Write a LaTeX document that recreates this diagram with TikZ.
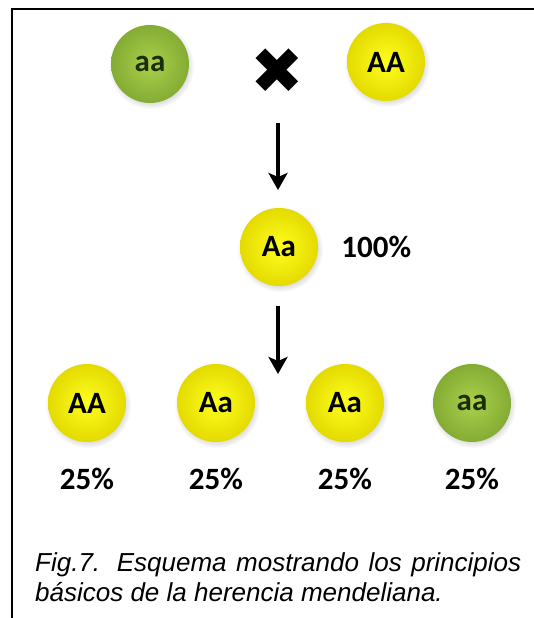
\documentclass[tikz,border=0pt]{standalone}
\usepackage{fontspec}
\setmainfont{Liberation Sans}
\newfontfamily\ballfont{Carlito}
\newfontfamily\symfont{DejaVu Sans}
\usetikzlibrary{arrows.meta,positioning,shadows}
\definecolor{ylwin}{RGB}{255,255,30}
\definecolor{ylwout}{RGB}{228,218,0}
\definecolor{grnin}{RGB}{170,208,75}
\definecolor{grnout}{RGB}{132,172,52}
\definecolor{grntext}{RGB}{28,45,10}

\begin{document}
\begin{tikzpicture}[x=1pt, y=-1pt, node distance=24pt, font=\ballfont\bfseries\fontsize{31}{34}\selectfont]
\tikzset{
  ball/.style={circle, minimum size=78pt, inner sep=0pt,
    circular drop shadow={shadow xshift=1pt, shadow yshift=-2pt, opacity=0.25}},
  yball/.style={ball, inner color=ylwin, outer color=ylwout, text=black},
  gball/.style={ball, inner color=grnin, outer color=grnout, text=grntext},
  pct/.style={text=black, inner sep=2pt},
  arr/.style={-{Stealth[length=17pt, width=19pt, inset=4pt]}, line width=4pt},
}
\useasboundingbox (0,0) rectangle (534,618);
\fill[white] (0,0) rectangle (534,618);
% frame
\draw[line width=2pt] (12,618) -- (12,9) -- (534,9);
% parents
\node[gball] (p1) at (150,64) {aa};
\node[font=\symfont\fontsize{64}{64}\selectfont] (cross) at (277,71) {✖};
\node[yball] (p2) at (386,62) {AA};
% first generation
\node[yball] (f1) at (279,247) {Aa};
\node[pct, right=21pt of f1] (f1pct) {100\%};
\coordinate (kids) at (278,403);
% second generation
\node[yball] (g1) at (87,403) {AA};
\node[yball] (g2) at (216,403) {Aa};
\node[yball] (g3) at (345,403) {Aa};
\node[gball] (g4) at (472,403) {aa};
\node[pct, below=of g1] (g1pct) {25\%};
\node[pct, below=of g2] (g2pct) {25\%};
\node[pct, below=of g3] (g3pct) {25\%};
\node[pct, below=of g4] (g4pct) {25\%};
\draw[arr, shorten <=52pt, shorten >=57pt] ([xshift=1pt]cross.center) -- ([xshift=-1pt]f1.center);
\draw[arr, shorten <=59pt, shorten >=29pt] ([xshift=-1pt]f1.center) -- (kids);
% caption
\node[anchor=north west, text width=486pt, align=justify, inner sep=0pt,
  font=\itshape\fontsize{26}{30}\selectfont] (caption) at (35,552)
  {Fig.7. Esquema mostrando los principios b\'asicos de la herencia mendeliana.};
\end{tikzpicture}
\end{document}
